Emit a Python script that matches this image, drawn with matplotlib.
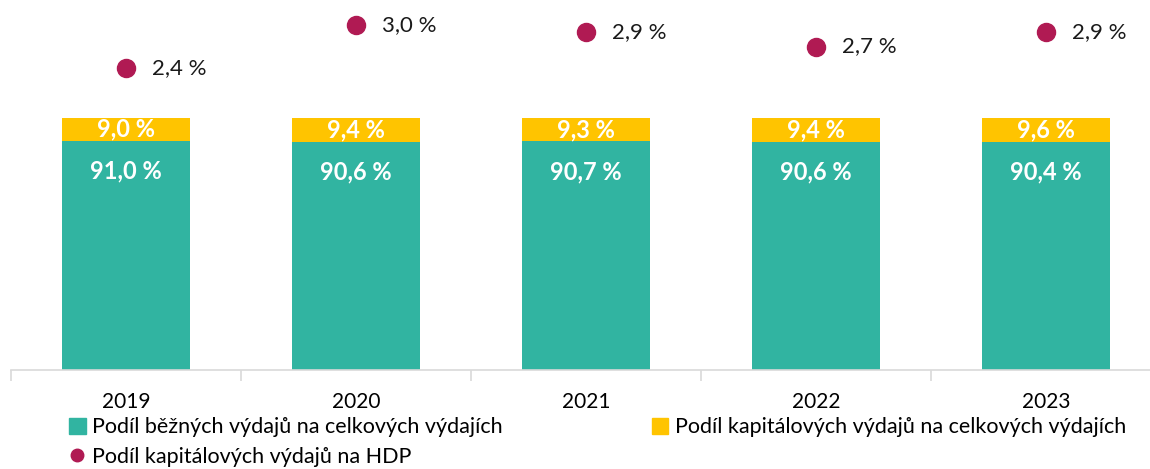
import matplotlib
matplotlib.use('Agg')
import matplotlib.pyplot as plt
import numpy as np
from matplotlib.patches import Patch
from matplotlib.lines import Line2D

plt.rcParams['font.family'] = ['Lato', 'DejaVu Sans']

years = ['2019', '2020', '2021', '2022', '2023']
bezne = [91.0, 90.6, 90.7, 90.6, 90.4]
kapitalove = [9.0, 9.4, 9.3, 9.4, 9.6]
hdp = [2.4, 3.0, 2.9, 2.7, 2.9]

c_teal = '#31B4A1'
c_yellow = '#FFC400'
c_dot = '#B01A53'

def fmt(v):
    return f'{v:.1f} %'.replace('.', ',')

fig = plt.figure(figsize=(11.5, 4.69), dpi=100)
ax = fig.add_axes([11/1150, (469-370)/469, 1150/1150, 365/469])
x = np.arange(len(years))
w = 0.557

ax.bar(x, bezne, w, color=c_teal)
ax.bar(x, kapitalove, w, bottom=bezne, color=c_yellow)
for i in range(len(years)):
    ax.text(x[i], bezne[i] - 12, fmt(bezne[i]), ha='center', va='center',
            color='white', fontsize=17, fontweight='bold')
    ax.text(x[i], bezne[i] + kapitalove[i] / 2, fmt(kapitalove[i]), ha='center', va='center',
            color='white', fontsize=17, fontweight='bold')

ax.set_xlim(-0.5, 4.5)
ax.set_ylim(0, 144.8)
ax.set_yticks([])
for s in ['top', 'right', 'left']:
    ax.spines[s].set_visible(False)
ax.spines['bottom'].set_color('#D9D9D9')
ax.spines['bottom'].set_linewidth(1.2)
ax.set_xticks(x)
ax.set_xticklabels(years, fontsize=15)
ax.tick_params(axis='x', which='major', length=0, pad=16)
ax.set_xticks(np.arange(-0.5, 5, 1), minor=True)
ax.tick_params(axis='x', which='minor', length=8, color='#D9D9D9', width=1.2)

ax2 = ax.twinx()
ax2.plot(x, hdp, 'o', color=c_dot, ms=13, ls='none')
for i in range(len(years)):
    ax2.annotate(fmt(hdp[i]), (x[i], hdp[i]), xytext=(19, 0), textcoords='offset points',
                 ha='left', va='center', fontsize=16, color='#1A1A1A')
ax2.set_ylim(-1.81, 3.28)
ax2.set_yticks([])
for s in ['top', 'right', 'left', 'bottom']:
    ax2.spines[s].set_visible(False)

handles = [Patch(color=c_teal, label='Podíl běžných výdajů na celkových výdajích'),
           Line2D([], [], marker='o', color=c_dot, ls='none', ms=9,
                  label='Podíl kapitálových výdajů na HDP'),
           Patch(color=c_yellow, label='Podíl kapitálových výdajů na celkových výdajích')]
fig.legend(handles=handles, ncol=2, loc='lower left', bbox_to_anchor=(50/1150, -0.036),
           frameon=False, fontsize=15.5, handlelength=0.75, handleheight=0.75,
           handletextpad=0.3, columnspacing=6.95, labelspacing=0.42)

fig.savefig('out.png', dpi=100)
